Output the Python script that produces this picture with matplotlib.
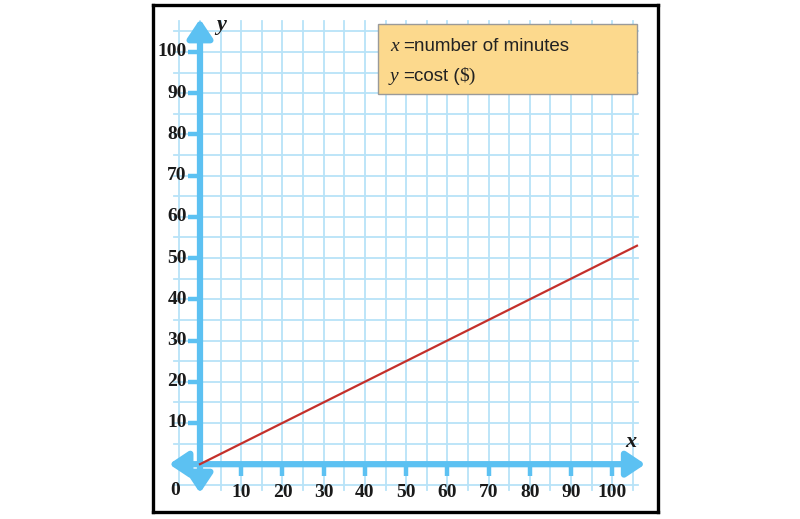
import matplotlib
matplotlib.use("Agg")
import matplotlib.pyplot as plt
from matplotlib.patches import Rectangle

# data
x_ticks = [10, 20, 30, 40, 50, 60, 70, 80, 90, 100]
y_ticks = [10, 20, 30, 40, 50, 60, 70, 80, 90, 100]
line_x = [0, 106]
line_y = [0, 53]
grid_vals = list(range(-5, 106, 5))

AX_BLUE = "#5cc1f2"
GRID_BLUE = "#b8e3f8"
RED = "#c4302b"

fig = plt.figure(figsize=(8, 5.19), dpi=100)
ax = fig.add_axes([153/800, 7/519, 505/800, 507/519])
ax.set_xlim(-11.4, 111.1)
ax.set_ylim(-11.6, 111.4)
for s in ax.spines.values():
    s.set_linewidth(2.4)
    s.set_color("black")
ax.set_xticks([]); ax.set_yticks([])

# grid
for g in grid_vals:
    ax.plot([g, g], [-6.2, 107.5], color=GRID_BLUE, lw=1.3, zorder=1)
    ax.plot([-6.2, 106.2], [g, g], color=GRID_BLUE, lw=1.3, zorder=1)

# axes with arrows
style = "<|-|>,head_length=0.75,head_width=0.5"
ax.annotate("", xy=(0, 108), xytext=(0, -7), zorder=3,
            arrowprops=dict(arrowstyle=style, color=AX_BLUE, lw=4.5,
                            mutation_scale=15, shrinkA=0, shrinkB=0))
ax.annotate("", xy=(108, 0), xytext=(-7.5, 0), zorder=3,
            arrowprops=dict(arrowstyle=style, color=AX_BLUE, lw=4.5,
                            mutation_scale=15, shrinkA=0, shrinkB=0))

serif = "Liberation Serif"
TFS = 14
for t in x_ticks:
    ax.plot([t, t], [0, -2.8], color=AX_BLUE, lw=3.2, solid_capstyle="butt", zorder=3)
    ax.text(t, -6.9, str(t), ha="center", va="center", fontsize=TFS,
            fontweight="bold", family=serif, color="#1a1a1a")
for t in y_ticks:
    ax.plot([0, -3.0], [t, t], color=AX_BLUE, lw=3.2, solid_capstyle="butt", zorder=3)
    ax.text(-3.2, t, str(t), ha="right", va="center", fontsize=TFS,
            fontweight="bold", family=serif, color="#1a1a1a")
ax.text(-6.0, -6.5, "0", ha="center", va="center", fontsize=TFS,
        fontweight="bold", family=serif, color="#1a1a1a")

ax.text(5.2, 106.6, "y", ha="center", va="center", fontsize=16, fontweight="bold",
        fontstyle="italic", family=serif, color="#1a1a1a")
ax.text(104.5, 5.5, "x", ha="center", va="center", fontsize=16, fontweight="bold",
        fontstyle="italic", family=serif, color="#1a1a1a")

# line
ax.plot(line_x, line_y, color=RED, lw=1.6, zorder=4)

# key box
ax.add_patch(Rectangle((43.2, 89.8), 62.8, 16.9, facecolor="#fcd98d",
                       edgecolor="#9a9a9a", lw=1.0, zorder=5))
KFS = 13.5
TXT = "#222222"

def key_line(yv, var, rest_parts):
    t = ax.text(46.1, yv, var, ha="left", va="center", fontsize=KFS + 0.5,
                fontstyle="italic", family=serif, color=TXT, zorder=6)
    prev = ax.annotate("=", xy=(1, 0.5), xycoords=t, xytext=(3, 0),
                       textcoords="offset points", ha="left", va="center",
                       fontsize=KFS, family="Liberation Sans", color=TXT, zorder=6)
    for txt, fam in rest_parts:
        prev = ax.annotate(txt, xy=(1, 0.5), xycoords=prev,
                           xytext=(0.5 if fam != serif else -0.8, 0),
                           textcoords="offset points", ha="left", va="center",
                           fontsize=KFS + (0.5 if fam == serif else 0),
                           family=fam, color=TXT, zorder=6)

key_line(101.4, "x", [("number of minutes", "Liberation Sans")])
key_line(94.1, "y", [("cost (", "Liberation Sans"), ("$)", serif)])

fig.savefig("out.png", dpi=100)
